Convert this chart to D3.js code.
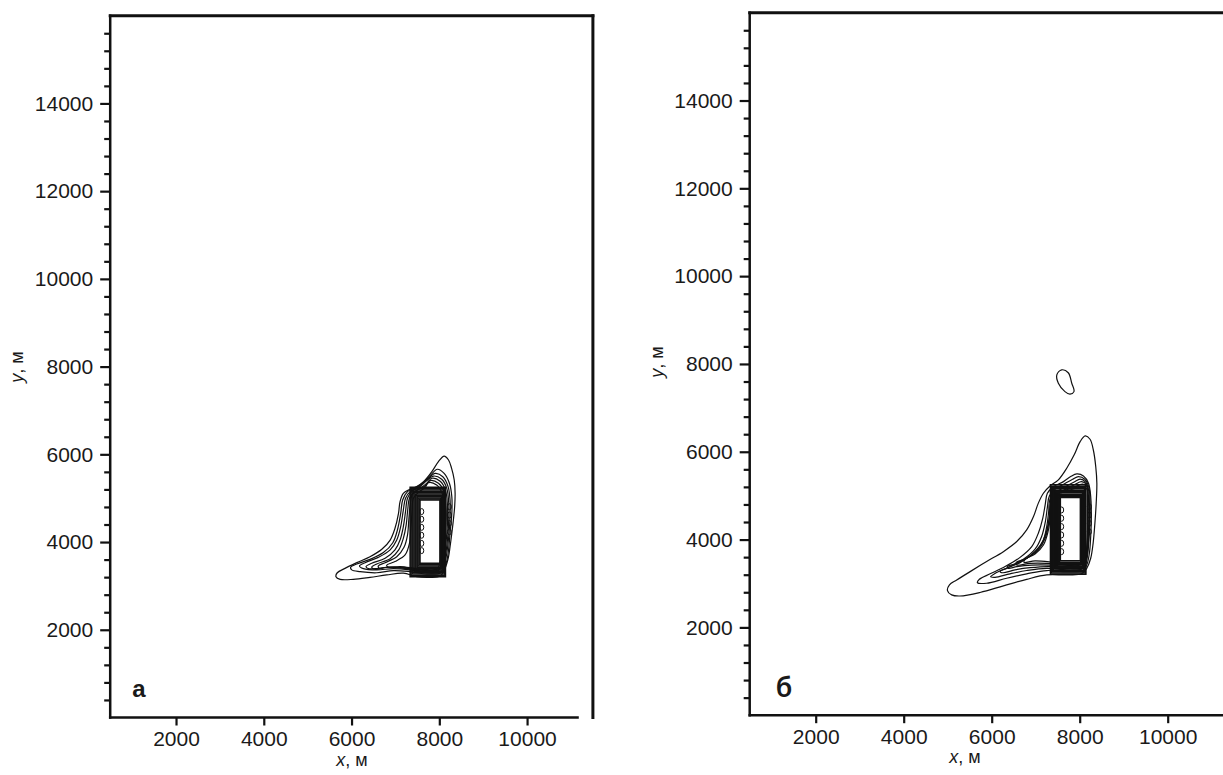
<!DOCTYPE html>
<html>
<head>
<meta charset="utf-8">
<script src="https://cdn.jsdelivr.net/npm/d3@7"></script>
<style>
  body { margin: 0; background: #fff; }
  svg { display: block; }
  text { font-family: "Liberation Sans", Arial, sans-serif; fill: #1a1a1a; }
</style>
</head>
<body>
<svg id="chart" width="1223" height="775"></svg>
<script>
// Axis ticks (metres)
const xTicks = [2000, 4000, 6000, 8000, 10000];
const yTicks = [2000, 4000, 6000, 8000, 10000, 12000, 14000];
const xDomain = [500, 11500];
const yDomain = [0, 16000];

// Nested contours around the area source (left, bottom, right, top), same in both cases
const sourceRings = [
    [7335, 3210, 8140, 5250],
    [7355, 3240, 8130, 5215],
    [7380, 3270, 8125, 5185],
    [7400, 3300, 8110, 5155],
    [7425, 3335, 8095, 5125],
    [7450, 3365, 8080, 5095],
    [7470, 3395, 8065, 5065],
    [7495, 3425, 8050, 5035],
    [7515, 3455, 8035, 5005],
    [7540, 3485, 8025, 4980],
    [7560, 3515, 8015, 4960]
];

// Case "а": plume contours, outer to inner
const plumeA = [
    [[8110,5960],[8210,5870],[8280,5680],[8340,5415],[8360,5110],[8350,4810],[8320,4500],[8285,4200],[8245,3895],[8210,3665],[8130,3400],[8020,3225],[7790,3195],[7485,3210],[7180,3290],[6800,3250],[6420,3195],[6040,3150],[5740,3150],[5645,3210],[5675,3300],[5850,3400],[6120,3530],[6420,3665],[6690,3835],[6880,4045],[6990,4315],[7070,4655],[7105,4920],[7180,5110],[7320,5200],[7485,5265],[7640,5375],[7830,5605],[7980,5835]],
    [[7955,5660],[8110,5565],[8230,5340],[8285,5035],[8285,4655],[8245,4200],[8210,3820],[8155,3515],[8035,3300],[7715,3270],[7335,3325],[6955,3350],[6575,3300],[6195,3325],[6005,3365],[5980,3425],[6120,3500],[6420,3605],[6725,3760],[6940,3985],[7045,4275],[7120,4655],[7165,4960],[7275,5150],[7450,5240],[7640,5355],[7805,5530]],
    [[7905,5565],[8080,5490],[8200,5265],[8245,4960],[8245,4580],[8215,4125],[8170,3745],[8110,3475],[8005,3315],[7715,3300],[7335,3365],[6955,3395],[6575,3365],[6270,3395],[6180,3455],[6310,3530],[6610,3650],[6880,3820],[7030,4045],[7120,4350],[7180,4730],[7230,5000],[7335,5150],[7500,5240],[7715,5415]],
    [[7865,5505],[8055,5430],[8170,5225],[8215,4885],[8215,4505],[8185,4045],[8140,3705],[8080,3455],[7955,3335],[7640,3335],[7260,3395],[6880,3425],[6535,3395],[6385,3395],[6330,3440],[6460,3515],[6765,3630],[6990,3820],[7105,4045],[7180,4350],[7230,4695],[7275,5000],[7370,5150],[7560,5265],[7715,5400]],
    [[7830,5455],[8020,5385],[8140,5185],[8185,4845],[8185,4425],[8155,4010],[8110,3665],[8050,3440],[7940,3350],[7560,3365],[7180,3410],[6800,3425],[6535,3380],[6460,3425],[6575,3500],[6880,3620],[7075,3820],[7180,4085],[7245,4390],[7280,4730],[7320,5000],[7425,5140],[7600,5250],[7730,5355]],
    [[7790,5400],[7980,5340],[8110,5150],[8155,4805],[8155,4390],[8125,3970],[8080,3650],[8020,3425],[7905,3365],[7560,3380],[7180,3425],[6800,3425],[6635,3400],[6610,3455],[6765,3530],[7030,3665],[7195,3880],[7275,4160],[7305,4505],[7335,4845],[7380,5075],[7500,5185],[7675,5280]],
    [[7750,5355],[7940,5300],[8065,5110],[8110,4770],[8110,4350],[8080,3935],[8035,3630],[7970,3415],[7865,3365],[7485,3395],[7105,3440],[6840,3425],[6800,3470],[6990,3555],[7220,3705],[7320,3970],[7350,4315],[7380,4695],[7410,5000],[7545,5150],[7675,5240]]
];
const loopsA = [[7600,4695],[7600,4520],[7600,4335],[7600,4155],[7600,3970],[7600,3805],[8230,4805],[8230,4615],[8230,4425],[8230,4235]];

// Case "б": plume contours, outer to inner, plus the detached island
const plumeB = [
    [[8125,6360],[8235,6285],[8310,6040],[8365,5660],[8390,5285],[8375,4830],[8345,4370],[8305,3915],[8250,3575],[8160,3345],[8045,3220],[7705,3195],[7250,3195],[6795,3095],[6265,2945],[5735,2795],[5280,2715],[5090,2740],[4995,2840],[5040,2970],[5205,3080],[5510,3270],[5885,3500],[6265,3725],[6570,3955],[6795,4220],[6950,4525],[7060,4830],[7175,5055],[7325,5220],[7515,5360],[7705,5625],[7875,5930],[8010,6230]],
    [[7935,5495],[8085,5450],[8200,5285],[8250,4980],[8265,4525],[8250,4070],[8220,3690],[8160,3420],[8070,3295],[7705,3270],[7250,3295],[6795,3220],[6340,3120],[5885,3005],[5675,3020],[5720,3095],[5965,3220],[6305,3385],[6645,3595],[6910,3840],[7060,4145],[7160,4485],[7215,4790],[7265,5055],[7400,5205],[7630,5320],[7795,5435]],
    [[7970,5435],[8115,5375],[8205,5205],[8235,4900],[8235,4445],[8210,3990],[8180,3650],[8130,3420],[8040,3325],[7705,3310],[7250,3345],[6795,3295],[6415,3220],[6075,3140],[5975,3155],[6075,3230],[6380,3370],[6720,3550],[6985,3780],[7135,4070],[7220,4410],[7265,4735],[7310,4995],[7440,5145],[7645,5265],[7840,5375]],
    [[8010,5375],[8135,5310],[8200,5145],[8220,4830],[8220,4370],[8200,3955],[8160,3610],[8100,3420],[8010,3345],[7705,3345],[7325,3385],[6870,3360],[6530,3310],[6250,3245],[6190,3275],[6340,3345],[6645,3475],[6950,3690],[7160,3955],[7250,4295],[7295,4635],[7325,4915],[7480,5090],[7675,5205],[7875,5310]],
    [[8040,5320],[8150,5260],[8190,5090],[8205,4750],[8205,4295],[8180,3875],[8145,3575],[8085,3400],[7980,3370],[7705,3385],[7325,3420],[6910,3420],[6570,3385],[6380,3345],[6355,3385],[6570,3460],[6870,3625],[7100,3855],[7235,4145],[7305,4485],[7340,4830],[7495,5040],[7705,5160],[7900,5260]],
    [[8070,5265],[8165,5205],[8180,5040],[8190,4675],[8190,4220],[8165,3800],[8130,3535],[8055,3400],[7935,3400],[7630,3420],[7250,3460],[6870,3460],[6570,3420],[6555,3475],[6795,3575],[7060,3765],[7215,4030],[7295,4370],[7340,4710],[7385,4965],[7540,5070],[7735,5145],[7935,5220]],
    [[8085,5205],[8165,5145],[8175,4980],[8175,4600],[8175,4145],[8150,3725],[8105,3500],[8025,3420],[7780,3430],[7400,3480],[6985,3515],[6735,3480],[6760,3550],[6985,3670],[7175,3875],[7280,4180],[7335,4525],[7370,4830],[7430,4980],[7590,5070],[7780,5130],[7945,5175]]
];
const islandB = [[7590,7865],[7740,7800],[7820,7560],[7870,7370],[7780,7315],[7665,7370],[7515,7560],[7480,7750]];
const loopsB = [[7590,4675],[7590,4485],[7590,4295],[7590,4105],[7590,3915],[7590,3725],[8220,4750],[8220,4560],[8220,4370],[8220,4180]];

const svg = d3.select("#chart");
const yMinor = d3.range(400, 16000, 400).filter(v => v % 2000 !== 0);

function drawPanel(cfg) {
    const g = svg.append("g");
    const x = d3.scaleLinear().domain(xDomain).range(cfg.xRange);
    const y = d3.scaleLinear().domain(yDomain).range(cfg.yRange);

    // contours
    const smooth = d3.line().x(d => x(d[0])).y(d => y(d[1])).curve(d3.curveCatmullRomClosed.alpha(0.5));
    const rect = d3.line().x(d => x(d[0])).y(d => y(d[1])).curve(d3.curveLinearClosed);
    const cg = g.append("g").attr("fill", "none").attr("stroke", "#111").attr("stroke-width", 1.2);
    cg.selectAll("path.plume")
        .data(cfg.plume)
        .enter()
        .append("path")
        .attr("class", "plume")
        .attr("d", smooth);
    if (cfg.island) cg.append("path").attr("d", smooth(cfg.island));
    cg.selectAll("path.ring")
        .data(sourceRings)
        .enter()
        .append("path")
        .attr("class", "ring")
        .attr("stroke-width", 1.5)
        .attr("d", r => rect([[r[0], r[1]], [r[2], r[1]], [r[2], r[3]], [r[0], r[3]]]));
    cg.selectAll("ellipse")
        .data(cfg.loops)
        .enter()
        .append("ellipse")
        .attr("cx", d => x(d[0]))
        .attr("cy", d => y(d[1]))
        .attr("rx", 2)
        .attr("ry", 3)
        .attr("stroke-width", 1);

    // y axis: minor and major ticks
    const x0 = x(xDomain[0]);
    g.append("g")
        .attr("transform", `translate(${x0},0)`)
        .call(d3.axisLeft(y).tickValues(yMinor).tickSize(6).tickFormat(""))
        .call(a => a.select(".domain").remove());
    g.append("g")
        .attr("transform", `translate(${x0},0)`)
        .call(d3.axisLeft(y).tickValues(yTicks).tickSize(10).tickPadding(7).tickFormat(d3.format("d")))
        .call(a => a.select(".domain").remove());
    // x axis
    const yb = y(0);
    g.append("g")
        .attr("transform", `translate(0,${yb})`)
        .call(d3.axisBottom(x).tickValues(xTicks).tickSize(8).tickPadding(6).tickFormat(d3.format("d")))
        .call(a => a.select(".domain").remove());
    g.selectAll(".tick line").attr("stroke", "#111").attr("stroke-width", 2.2);
    g.selectAll(".tick text").attr("font-size", 21).attr("fill", "#1a1a1a")
        .attr("font-family", "'Liberation Sans', Arial, sans-serif");

    // axis lines and frame
    const fr = g.append("g").attr("stroke", "#111").attr("stroke-linecap", "square");
    fr.append("line").attr("x1", x0).attr("x2", x0).attr("y1", y(16000)).attr("y2", yb).attr("stroke-width", 2.5);
    fr.append("line").attr("x1", x0).attr("x2", x(cfg.axisEnd)).attr("y1", yb).attr("y2", yb).attr("stroke-width", 2.5);
    fr.append("line").attr("x1", x0).attr("x2", x(11500)).attr("y1", y(16000)).attr("y2", y(16000)).attr("stroke-width", 3);
    fr.append("line").attr("x1", x(11500)).attr("x2", x(11500)).attr("y1", y(16000)).attr("y2", yb).attr("stroke-width", 3);

    // axis titles
    const xt = g.append("text")
        .attr("x", cfg.xTitle[0]).attr("y", cfg.xTitle[1])
        .attr("text-anchor", "middle").attr("font-size", 18);
    xt.append("tspan").attr("font-style", "italic").text("x");
    xt.append("tspan").text(", м");
    const yt = g.append("text")
        .attr("transform", `translate(${cfg.yTitle[0]},${cfg.yTitle[1]}) rotate(-90)`)
        .attr("text-anchor", "middle").attr("font-size", 18);
    yt.append("tspan").attr("font-style", "italic").text("y");
    yt.append("tspan").text(", м");

    // panel letter
    g.append("text")
        .attr("x", cfg.letterPos[0]).attr("y", cfg.letterPos[1])
        .attr("text-anchor", "middle")
        .attr("font-size", cfg.letterSize)
        .attr("font-weight", cfg.letterWeight)
        .style("font-family", cfg.letterFont)
        .text(cfg.letter);
}

drawPanel({
    xRange: [110.2, 592.9], yRange: [717.5, 15.7], axisEnd: 11150,
    plume: plumeA, loops: loopsA, island: null,
    xTitle: [352, 766], yTitle: [23, 367],
    letter: "а", letterPos: [139, 697], letterSize: 24, letterWeight: "bold",
    letterFont: "'Liberation Sans', Arial, sans-serif"
});
drawPanel({
    xRange: [749.7, 1233.7], yRange: [715.2, 12.7], axisEnd: 11500,
    plume: plumeB, loops: loopsB, island: islandB,
    xTitle: [965, 763], yTitle: [663, 362],
    letter: "б", letterPos: [784, 697], letterSize: 27, letterWeight: 600,
    letterFont: "'Noto Sans', 'DejaVu Sans', sans-serif"
});
</script>
</body>
</html>
